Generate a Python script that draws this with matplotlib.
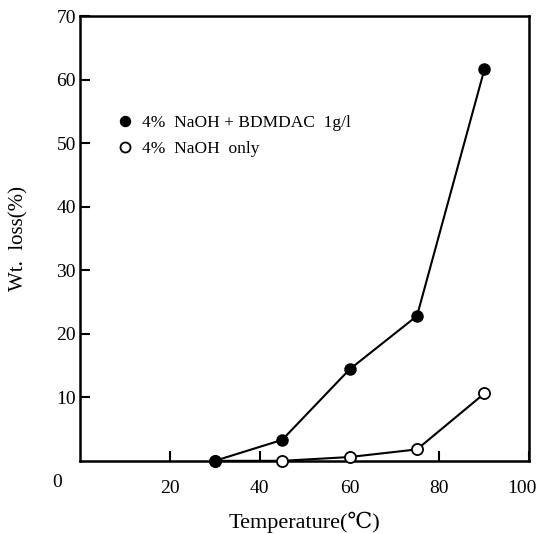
import matplotlib.pyplot as plt
import matplotlib.transforms as mtransforms

plt.rcParams['font.family'] = ['Liberation Serif', 'DejaVu Serif']

# data
temp = [30, 45, 60, 75, 90]
loss_bdmdac = [0, 3.3, 14.4, 22.8, 61.6]
loss_naoh = [0, 0, 0.6, 1.8, 10.6]

xticks = [20, 40, 60, 80, 100]
yticks = [10, 20, 30, 40, 50, 60, 70]

fig = plt.figure(figsize=(5.42, 5.34), dpi=100)
ax = fig.add_axes([0.1476, 0.137, 0.829, 0.833])

ax.plot(temp, loss_naoh, color='black', lw=1.5, marker='o', ms=8,
        mfc='white', mec='black', mew=1.3, label='4%  NaOH  only', clip_on=False, zorder=3)
ax.plot(temp, loss_bdmdac, color='black', lw=1.5, marker='o', ms=8,
        mfc='black', mec='black', label='4%  NaOH + BDMDAC  1g/l', clip_on=False, zorder=4)

ax.set_xlim(0, 100)
ax.set_ylim(0, 70)
ax.set_xticks(xticks)
ax.set_yticks(yticks)
ax.tick_params(direction='in', length=7, width=1.5, labelsize=14, pad=3)
ax.tick_params(axis='x', pad=14)
for s in ax.spines.values():
    s.set_linewidth(1.8)

# nudge the "100" label left so it stays inside the figure
lab = ax.get_xticklabels()[-1]
lab.set_transform(lab.get_transform() + mtransforms.ScaledTranslation(-5 / 72, 0, fig.dpi_scale_trans))

ax.text(-0.05, -0.03, '0', transform=ax.transAxes, fontsize=14, ha='center', va='top')

ax.set_xlabel('Temperature(℃)', fontsize=16, labelpad=10)
ax.set_ylabel('Wt.  loss(%)', fontsize=15, labelpad=20)

# filled series first in the legend
h, l = ax.get_legend_handles_labels()
ax.legend(h[::-1], l[::-1], loc='upper left', bbox_to_anchor=(0.065, 0.812), frameon=False,
          fontsize=12.5, handlelength=0, handletextpad=1.0, labelspacing=0.55,
          markerscale=0.9)

fig.savefig('out.png', dpi=100)
